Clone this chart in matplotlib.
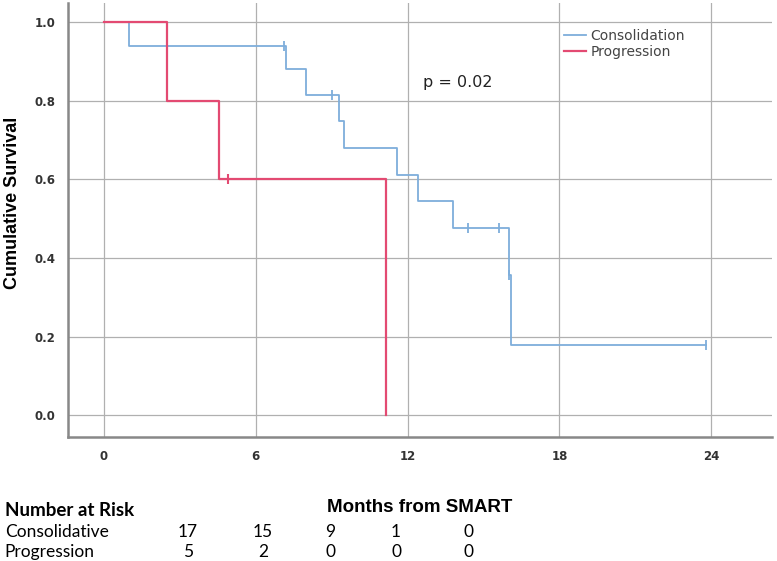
import matplotlib.pyplot as plt
from matplotlib.lines import Line2D

# Kaplan-Meier steps
cons_t = [0, 1.0, 7.2, 8.0, 9.3, 9.5, 11.6, 12.4, 13.8, 16.0, 16.1, 23.8]
cons_s = [1.0, 0.941, 0.882, 0.816, 0.748, 0.680, 0.612, 0.544, 0.476, 0.357, 0.178, 0.178]
cons_cens_t = [7.1, 9.0, 14.4, 15.6, 16.0, 23.8]
cons_cens_s = [0.941, 0.816, 0.476, 0.476, 0.357, 0.178]

prog_t = [0, 2.5, 4.55, 11.15, 11.15]
prog_s = [1.0, 0.8, 0.6, 0.0, 0.0]
prog_cens_t = [4.9]
prog_cens_s = [0.6]

xticks = [0, 6, 12, 18, 24]
yticks = [0.0, 0.2, 0.4, 0.6, 0.8, 1.0]

risk_groups = ['Consolidative', 'Progression']
risk_cons = [17, 15, 9, 1, 0]
risk_prog = [5, 2, 0, 0, 0]

blue = '#7eaedb'
red = '#e34a72'
lab_font = 'Liberation Sans'

fig = plt.figure(figsize=(7.77, 5.61), dpi=100)
ax = fig.add_axes([0.0875, 0.221, 0.906, 0.774])

ax.step(cons_t, cons_s, where='post', color=blue, lw=1.3)
ax.plot(cons_cens_t, cons_cens_s, ls='none', marker='|', ms=7, mew=1.3, color=blue)
ax.step(prog_t, prog_s, where='post', color=red, lw=1.6)
ax.plot(prog_cens_t, prog_cens_s, ls='none', marker='|', ms=7, mew=1.5, color=red)

ax.set_xlim(-1.42, 26.4)
ax.set_ylim(-0.056, 1.05)
ax.set_xticks(xticks)
ax.set_yticks(yticks)
ax.set_yticklabels(['%.1f' % v for v in yticks])
ax.grid(True, color='#b0b0b0', lw=0.9)
ax.set_axisbelow(True)
for s in ['top', 'right']:
    ax.spines[s].set_visible(False)
for s in ['left', 'bottom']:
    ax.spines[s].set_color('#888888')
    ax.spines[s].set_linewidth(1.8)
ax.tick_params(length=0, labelsize=8.5, colors='#333333', pad=9)
for lab in ax.get_xticklabels() + ax.get_yticklabels():
    lab.set_fontweight('bold')

ax.set_ylabel('Cumulative Survival', fontsize=13, fontweight='bold', family=lab_font)
ax.yaxis.set_label_coords(-0.067, 0.54)
ax.set_xlabel('Months from SMART', fontsize=13.5, fontweight='bold', family=lab_font)
ax.xaxis.set_label_coords(0.5, -0.143)

ax.text(12.6, 0.847, 'p = 0.02', fontsize=11.5, color='#222222', va='center')

handles = [Line2D([], [], color=blue, lw=1.3), Line2D([], [], color=red, lw=1.6)]
leg = ax.legend(handles, ['Consolidation', 'Progression'], loc='upper left',
                bbox_to_anchor=(0.695, 0.955), frameon=False, fontsize=10,
                handlelength=1.6, handletextpad=0.3, labelspacing=0.1, borderpad=0)
for t in leg.get_texts():
    t.set_color('#444444')

# number at risk table
tf = 'Lato'
fig.text(0.006, 1 - 511 / 561, 'Number at Risk', fontsize=13.5, fontweight='bold',
         family=tf, va='center')
col_x = [188, 263, 330, 396, 468]
for row, (name, vals) in enumerate(zip(risk_groups, [risk_cons, risk_prog])):
    y = 1 - (532 + row * 20) / 561
    fig.text(0.006, y, name, fontsize=12.5, family=tf, va='center')
    for cx, v in zip(col_x, vals):
        fig.text(cx / 777, y, str(v), fontsize=12.5, family=tf, va='center', ha='center')

fig.savefig('out.png', dpi=100)
